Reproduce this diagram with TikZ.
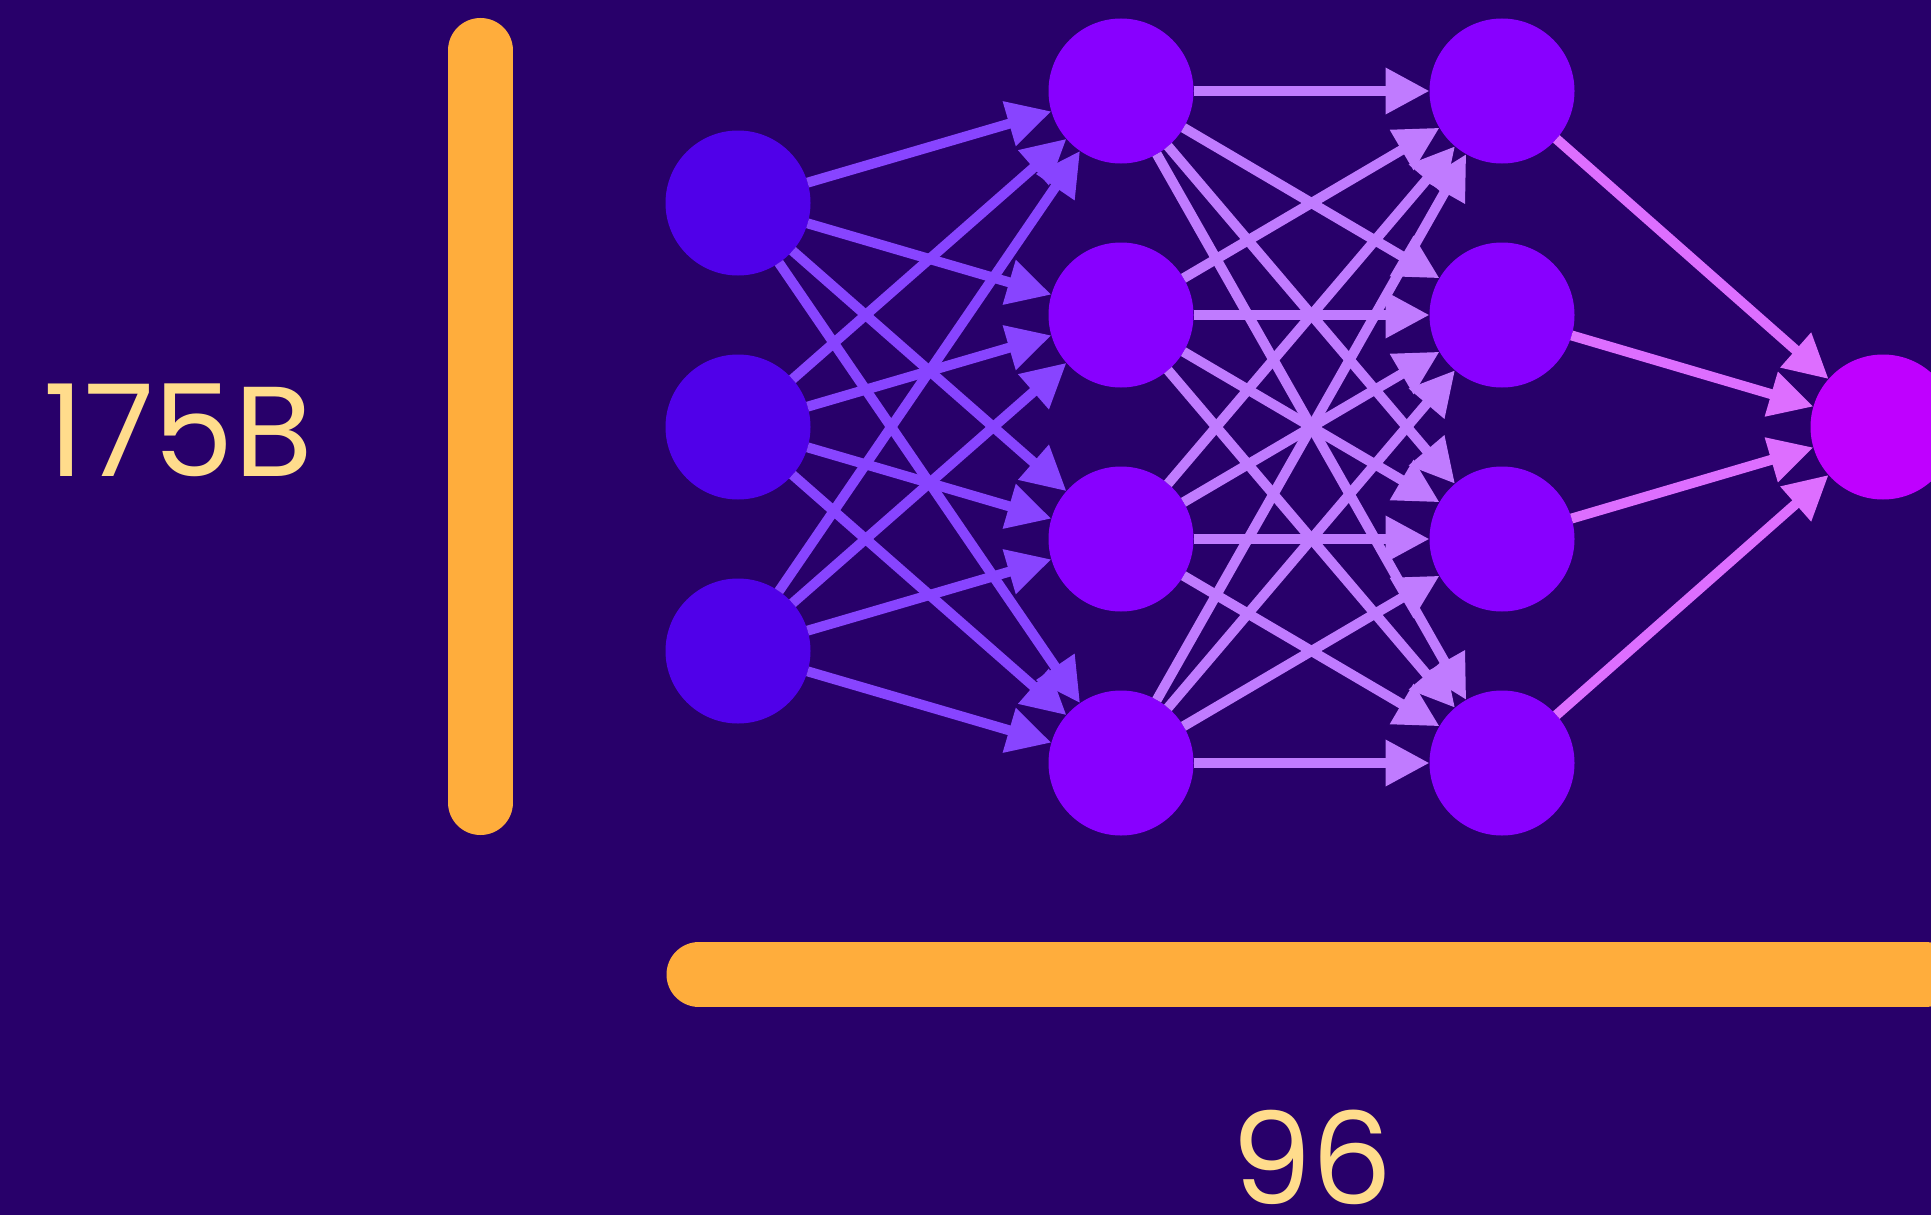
\documentclass[tikz,border=0pt]{standalone}
\usepackage{fontspec}
\setmainfont{Poppins}
\usepackage{tikz}
\usetikzlibrary{arrows.meta, positioning}
\usepackage{xcolor}
\definecolor{bgnight}{HTML}{28006A}
\definecolor{inviolet}{HTML}{5000E9}
\definecolor{hidviolet}{HTML}{8800FF}
\definecolor{outviolet}{HTML}{BF00FF}
\definecolor{linkone}{HTML}{8844FF}
\definecolor{linktwo}{HTML}{C07BFF}
\definecolor{linkthree}{HTML}{DD6EFF}
\definecolor{barorange}{HTML}{FFAD3C}
\definecolor{numyellow}{HTML}{FFDC8C}

\begin{document}
\begin{tikzpicture}[
  x=1pt, y=-1pt,
  node distance = 79pt and 236pt,
  neuron/.style  = {circle, minimum size=145pt, inner sep=0pt,
                    outer sep=0pt},
  inneuron/.style  = {neuron, fill=inviolet},
  hidneuron/.style = {neuron, fill=hidviolet},
  outneuron/.style = {neuron, fill=outviolet},
  link/.style = {-{Triangle[length=44pt, width=44pt]}, line width=10pt},
  bar/.style  = {line width=65pt, line cap=round, draw=barorange},
  num/.style  = {text=numyellow, inner sep=0pt,
                 font=\fontsize{128}{128}\selectfont}
]
% background
\fill[bgnight] (0,0) rectangle (1931,1215);
\useasboundingbox (0,0) rectangle (1931,1215);
% input layer
\node[inneuron] (a1) at (738,203) {};
\node[inneuron, below=of a1] (a2) {};
\node[inneuron, below=of a2] (a3) {};
% hidden layers
\node[hidneuron] (h1) at (1121,91) {};
\node[hidneuron, below=of h1] (h2) {};
\node[hidneuron, below=of h2] (h3) {};
\node[hidneuron, below=of h3] (h4) {};
\node[hidneuron, right=of h1] (k1) {};
\node[hidneuron, right=of h2] (k2) {};
\node[hidneuron, right=of h3] (k3) {};
\node[hidneuron, right=of h4] (k4) {};
% output
\node[outneuron] (o1) at (1883,427) {};
% connections
\foreach \i in {1,2,3}
  \foreach \j in {1,...,4}
    \draw[link, linkone] (a\i) -- (h\j);
\foreach \i in {1,...,4}
  \foreach \j in {1,...,4}
    \draw[link, linktwo] (h\i) -- (k\j);
\foreach \i in {1,...,4}
  \draw[link, linkthree] (k\i) -- (o1);
% scale bars
\draw[bar] (480.5,50.5) -- (480.5,802.5);
\draw[bar] (699,974.5) -- (1925,974.5);
% labels
\node[num] (params) at (178,430) {175B};
\node[num] (depth) at (1312,1157) {96};
\end{tikzpicture}
\end{document}
